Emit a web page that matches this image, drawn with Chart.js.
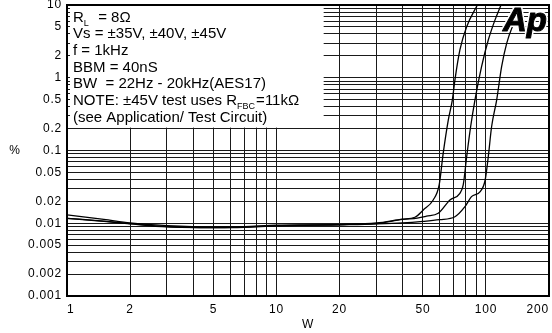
<!DOCTYPE html>
<html>
<head>
<meta charset="utf-8">
<script src="https://cdn.jsdelivr.net/npm/chart.js@4.4.1/dist/chart.umd.min.js"></script>
<style>
  html, body { margin: 0; padding: 0; background: #fff; }
  #wrap { width: 552px; height: 333px; }
</style>
</head>
<body>
<div id="wrap"><canvas id="thdChart" width="552" height="333"></canvas></div>
<script>
// === data (W -> THD+N %) ===
// +35V supply
const wattsA = [1, 1.5, 2, 3, 5, 7, 10, 15, 20, 30, 40, 45.8, 50.2, 56, 59.8, 62.5, 66.1, 69.1, 71.1, 75.1, 80.9, 91];
const thdA   = [0.0117, 0.0107, 0.0099, 0.009, 0.0087, 0.0088, 0.0092, 0.0094, 0.0096, 0.0101, 0.0114, 0.0121, 0.0152, 0.0209, 0.0336, 0.0915, 0.262, 0.494, 0.93, 2.41, 5.03, 10];
// +40V supply
const wattsB = [1, 1.5, 2, 3, 5, 7, 10, 15, 20, 30, 40, 47, 52, 59.2, 67.3, 75.1, 77.9, 80.9, 84.5, 88.6, 95.3, 102.6, 110.4, 118];
const thdB   = [0.0117, 0.0106, 0.0098, 0.0089, 0.0087, 0.0089, 0.0093, 0.0094, 0.0095, 0.0099, 0.0113, 0.0118, 0.0125, 0.0137, 0.0209, 0.0258, 0.0336, 0.082, 0.212, 0.494, 1.42, 3.3, 6.2, 10];
// +45V supply
const wattsC = [1, 1.5, 2, 3, 5, 7, 10, 15, 20, 30, 40, 50, 60, 71.1, 79.4, 85.3, 93.9, 99.1, 102.6, 106.4, 112.5, 118.8, 125.6, 137.4, 146];
const thdC   = [0.013, 0.0113, 0.0101, 0.0093, 0.0089, 0.009, 0.0094, 0.0095, 0.0096, 0.0098, 0.0101, 0.0106, 0.0112, 0.0123, 0.0169, 0.0232, 0.0272, 0.039, 0.082, 0.212, 0.494, 1.42, 2.97, 6.2, 10];

// tick labels
const xTickLabels = ['1', '2', '5', '10', '20', '50', '100', '200'];
const yTickLabels = ['0.001', '0.002', '0.005', '0.01', '0.02', '0.05', '0.1', '0.2', '0.5', '1', '2', '5', '10'];

// grid positions (log minors)
const xGridValues = [1, 2, 3, 4, 5, 6, 7, 8, 9, 10, 20, 30, 40, 50, 60, 70, 80, 90, 100, 200];
const yDecades = [0.001, 0.01, 0.1, 1];
const yGridValues = [];
yDecades.forEach(d => {
  for (let m = 1; m <= 9; m++) yGridValues.push(parseFloat((m * d).toPrecision(3)));
});
yGridValues.push(10);

// text block in the upper left
const noteRows = [
  [{ t: 'R' }, { t: 'L', sub: true }, { t: '  = 8Ω' }],
  [{ t: 'Vs = ±35V, ±40V, ±45V' }],
  [{ t: 'f = 1kHz' }],
  [{ t: 'BBM = 40nS' }],
  [{ t: 'BW  = 22Hz - 20kHz(AES17)' }],
  [{ t: 'NOTE: ±45V test uses R' }, { t: 'FBC', sub: true }, { t: '=11kΩ' }],
  [{ t: '(see Application/ Test Circuit)' }]
];

const FONT = '"Liberation Sans", Arial, sans-serif';

function pts(xs, ys) {
  return xs.map((x, i) => ({ x: x, y: ys[i] }));
}

function labelFor(list, value) {
  const hit = list.find(l => Math.abs(Number(l) - value) < value * 1e-6);
  return hit || '';
}

// the scanned labels are a bit letter-spaced
const spacingPlugin = {
  id: 'spacing',
  beforeDraw(chart) { chart.ctx.letterSpacing = '0.8px'; }
};

// white note box + text, drawn over the grid but under the curves
const notePlugin = {
  id: 'noteBox',
  beforeDatasetsDraw(chart) {
    const ctx = chart.ctx;
    const a = chart.chartArea;
    const xs = chart.scales.x, ys = chart.scales.y;
    const right = xs.getPixelForValue(16.8);
    const bottom = ys.getPixelForValue(0.2) - 1;
    ctx.save();
    ctx.letterSpacing = '0px';
    ctx.fillStyle = '#fff';
    ctx.fillRect(a.left + 3, a.top + 1, right - a.left - 3, bottom - a.top - 1);
    ctx.fillStyle = '#000';
    ctx.textBaseline = 'alphabetic';
    noteRows.forEach((row, i) => {
      let x = a.left + 6;
      const y = a.top + 16.5 + i * 16.7;
      row.forEach(run => {
        ctx.font = run.sub ? '9px ' + FONT : '15px ' + FONT;
        const yy = run.sub ? y + 4 : y;
        ctx.fillText(run.t, x, yy);
        x += ctx.measureText(run.t).width + (run.sub ? 1 : 0);
      });
    });
    ctx.restore();
  }
};

// frame, axis captions and logo on top
const framePlugin = {
  id: 'frame',
  afterDraw(chart) {
    const ctx = chart.ctx;
    const a = chart.chartArea;
    ctx.save();
    ctx.strokeStyle = '#000';
    ctx.lineWidth = 2;
    ctx.strokeRect(a.left, a.top, a.right - a.left, a.bottom - a.top);

    ctx.fillStyle = '#000';
    ctx.font = '12px ' + FONT;
    ctx.textAlign = 'center';
    ctx.textBaseline = 'middle';
    ctx.fillText('%', 15, (a.top + a.bottom) / 2);
    ctx.fillText('W', (a.left + a.right) / 2, 325);

    // Ap logo
    ctx.letterSpacing = '0px';
    ctx.font = 'italic bold 33px ' + FONT;
    ctx.textAlign = 'left';
    ctx.textBaseline = 'alphabetic';
    ctx.lineJoin = 'round';
    ctx.strokeStyle = '#fff';
    ctx.lineWidth = 4;
    ctx.strokeText('Ap', 503, 31);
    ctx.fillText('Ap', 503, 31);
    ctx.strokeStyle = '#000';
    ctx.lineWidth = 1;
    ctx.strokeText('Ap', 503, 31);
    ctx.restore();
  }
};

const lineStyle = {
  borderColor: '#000',
  borderWidth: 1.3,
  pointRadius: 0,
  fill: false,
  cubicInterpolationMode: 'monotone'
};

new Chart(document.getElementById('thdChart'), {
  type: 'line',
  data: {
    datasets: [
      Object.assign({ label: '+35V', data: pts(wattsA, thdA) }, lineStyle),
      Object.assign({ label: '+40V', data: pts(wattsB, thdB) }, lineStyle),
      Object.assign({ label: '+45V', data: pts(wattsC, thdC) }, lineStyle)
    ]
  },
  options: {
    responsive: false,
    animation: false,
    devicePixelRatio: 1,
    layout: { padding: { top: 5, right: 3, left: 0, bottom: 0 } },
    plugins: { legend: { display: false }, tooltip: { enabled: false } },
    scales: {
      x: {
        type: 'logarithmic',
        min: 1,
        max: 200,
        border: { display: false },
        grid: { color: '#1a1a1a', lineWidth: 1, drawTicks: false },
        afterBuildTicks: scale => { scale.ticks = xGridValues.map(v => ({ value: v })); },
        afterFit: scale => { scale.height = 37; scale.paddingLeft = 0; scale.paddingRight = 0; },
        ticks: {
          autoSkip: false,
          maxRotation: 0,
          align: 'inner',
          padding: 6,
          color: '#000',
          font: { family: FONT, size: 12 },
          callback: v => labelFor(xTickLabels, v)
        }
      },
      y: {
        type: 'logarithmic',
        min: 0.001,
        max: 10,
        border: { display: false },
        grid: { color: '#1a1a1a', lineWidth: 1, drawTicks: false },
        afterBuildTicks: scale => { scale.ticks = yGridValues.map(v => ({ value: v })); },
        afterFit: scale => { scale.width = 67; scale.paddingTop = 0; scale.paddingBottom = 0; },
        ticks: {
          autoSkip: false,
          padding: 5,
          color: '#000',
          font: { family: FONT, size: 12 },
          callback: v => labelFor(yTickLabels, v)
        }
      }
    }
  },
  plugins: [spacingPlugin, notePlugin, framePlugin]
});
</script>
</body>
</html>
